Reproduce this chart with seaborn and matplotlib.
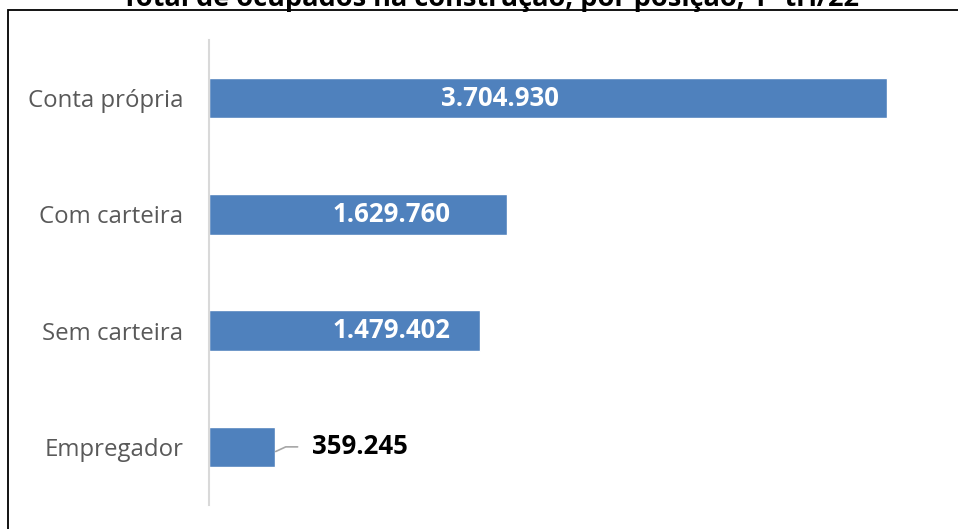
import matplotlib
matplotlib.use("Agg")
import matplotlib.pyplot as plt
import seaborn as sns
import pandas as pd
from matplotlib.patches import Rectangle

categories = ["Conta própria", "Com carteira", "Sem carteira", "Empregador"]
values = [3704930, 1629760, 1479402, 359245]
value_labels = ["3.704.930", "1.629.760", "1.479.402", "359.245"]
title = "Total de ocupados na construção, por posição, 1º tri/22"

# label anchor positions (data units along x), as placed in the original
label_x = [1590000, 1000000, 1000000, 825000]

sns.set_theme(style="white")
plt.rcParams["font.family"] = ["Open Sans", "DejaVu Sans"]

df = pd.DataFrame({"cat": categories, "val": values})

fig = plt.figure(figsize=(9.58, 5.29), dpi=100)
ax = fig.add_axes([209/958, 1-505/529, (940-209)/958, (505-40)/529])
sns.barplot(data=df, y="cat", x="val", orient="h", color="#4F81BD",
            saturation=1, width=0.35, ax=ax)
ax.set_xlim(0, 3704930 * (940-209) / 678)
ax.set_ylim(3.5, -0.5)
ax.set_xlabel("")
ax.set_ylabel("")
ax.set_xticks([])
for s in ["top", "right", "bottom"]:
    ax.spines[s].set_visible(False)
ax.spines["left"].set_color("#D9D9D9")
ax.spines["left"].set_linewidth(1.5)
ax.tick_params(axis="y", length=0, pad=18.5, labelsize=17.3, labelcolor="#595959")

for i, (v, lab, lx) in enumerate(zip(values, value_labels, label_x)):
    if v > 1000000:
        ax.text(lx, i, lab, ha="center", va="center", color="white",
                fontsize=18.5, fontweight="bold")
    else:
        x0 = v
        ax.plot([x0 + 5000, x0 + 60000, x0 + 125000], [i + 0.04, i, i],
                color="#A6A6A6", lw=1.2, clip_on=False)
        ax.text(lx, i, lab, ha="center", va="center", color="black",
                fontsize=18.5, fontweight="bold")

fig.text(490/958, 1-6/529, title, ha="center", va="baseline", fontsize=19.5,
         fontweight="bold", color="black")

fig.add_artist(Rectangle((8/958, -0.1), 1.2, 1.1 - 10/529, transform=fig.transFigure,
                         fill=False, edgecolor="black", lw=1.3, clip_on=False))

fig.savefig("out.png", dpi=100)
